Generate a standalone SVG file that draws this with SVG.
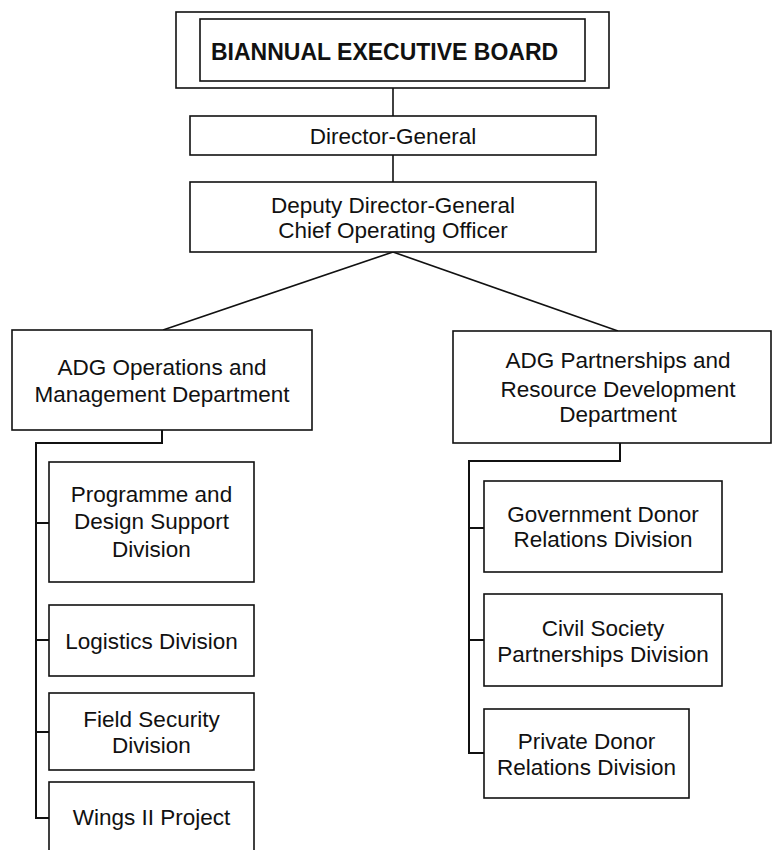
<svg xmlns="http://www.w3.org/2000/svg" width="773" height="850" viewBox="0 0 773 850">
<style>
.box{fill:#fff;stroke:#111;stroke-width:1.6}
.t{font-family:"Liberation Sans",Arial,sans-serif;font-size:22.5px;fill:#111;text-anchor:middle}
.b{font-family:"Liberation Sans",Arial,sans-serif;font-size:23px;font-weight:bold;fill:#111}
.c{fill:none;stroke:#111;stroke-width:2}
.d{fill:none;stroke:#111;stroke-width:1.6}
</style>
<rect width="773" height="850" fill="#fff"/>
<g id="connectors">
<line class="d" x1="393" y1="88" x2="393" y2="116"/>
<line class="d" x1="393" y1="155" x2="393" y2="182"/>
<line class="d" x1="393" y1="252" x2="163" y2="330"/>
<line class="d" x1="393" y1="252" x2="618" y2="331"/>
<polyline class="c" points="162,430 162,443 36,443 36,818 49,818"/>
<line class="c" x1="36" y1="523" x2="49" y2="523"/>
<line class="c" x1="36" y1="640" x2="49" y2="640"/>
<line class="c" x1="36" y1="732" x2="49" y2="732"/>
<polyline class="c" points="620,443 620,461 469,461 469,753 484,753"/>
<line class="c" x1="469" y1="528" x2="484" y2="528"/>
<line class="c" x1="469" y1="640" x2="484" y2="640"/>
</g>
<g id="board">
<rect class="box" x="176" y="12" width="433" height="76"/>
<rect class="box" x="200" y="19" width="385" height="62"/>
<text class="b" x="211" y="60">BIANNUAL EXECUTIVE BOARD</text>
</g>
<g id="dg">
<rect class="box" x="190" y="116" width="406" height="39"/>
<text class="t" x="393" y="144">Director-General</text>
</g>
<g id="ddg">
<rect class="box" x="190" y="182" width="406" height="70"/>
<text class="t" x="393" y="213">Deputy Director-General</text>
<text class="t" x="393" y="238">Chief Operating Officer</text>
</g>
<g id="adg-ops">
<rect class="box" x="12" y="330" width="300" height="100"/>
<text class="t" x="162" y="375">ADG Operations and</text>
<text class="t" x="162" y="402">Management Department</text>
</g>
<g id="adg-partners">
<rect class="box" x="453" y="331" width="318" height="112"/>
<text class="t" x="618" y="368">ADG Partnerships and</text>
<text class="t" x="618" y="397">Resource Development</text>
<text class="t" x="618" y="422">Department</text>
</g>
<g id="programme">
<rect class="box" x="49" y="462" width="205" height="120"/>
<text class="t" x="151.5" y="502">Programme and</text>
<text class="t" x="151.5" y="529">Design Support</text>
<text class="t" x="151.5" y="557">Division</text>
</g>
<g id="logistics">
<rect class="box" x="49" y="605" width="205" height="71"/>
<text class="t" x="151.5" y="649">Logistics Division</text>
</g>
<g id="field-security">
<rect class="box" x="49" y="693" width="205" height="77"/>
<text class="t" x="151.5" y="727">Field Security</text>
<text class="t" x="151.5" y="753">Division</text>
</g>
<g id="wings">
<rect class="box" x="49" y="782" width="205" height="90"/>
<text class="t" x="151.5" y="825">Wings II Project</text>
</g>
<g id="gov-donor">
<rect class="box" x="484" y="481" width="238" height="91"/>
<text class="t" x="603" y="522">Government Donor</text>
<text class="t" x="603" y="547">Relations Division</text>
</g>
<g id="civil-society">
<rect class="box" x="484" y="594" width="238" height="92"/>
<text class="t" x="603" y="636">Civil Society</text>
<text class="t" x="603" y="662">Partnerships Division</text>
</g>
<g id="private-donor">
<rect class="box" x="484" y="709" width="205" height="89"/>
<text class="t" x="586.5" y="749">Private Donor</text>
<text class="t" x="586.5" y="775">Relations Division</text>
</g>
</svg>
